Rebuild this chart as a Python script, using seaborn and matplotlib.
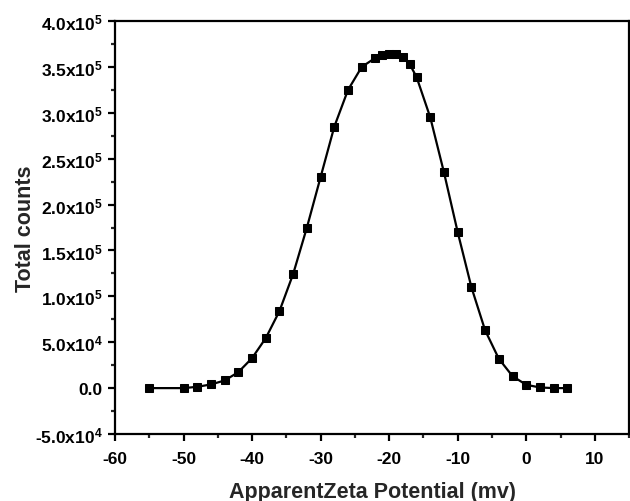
import matplotlib
matplotlib.use("Agg")
import matplotlib.pyplot as plt
import seaborn as sns
import pandas as pd
from matplotlib.ticker import MultipleLocator, FixedLocator, FuncFormatter

zeta = [-55, -50, -48, -46, -44, -42, -40, -38, -36, -34, -32, -30, -28, -26, -24,
        -22, -21, -20, -19, -18, -17, -16, -14, -12, -10, -8, -6, -4, -2, 0, 2, 4, 6]
counts = [0, 0, 1400, 4000, 8300, 17400, 32700, 54500, 84000, 124500, 175000,
          230000, 285000, 325000, 350000, 360000, 363500, 364000, 364000, 361000,
          353000, 339000, 295000, 235000, 170000, 110000, 63000, 32000, 13000,
          3600, 700, 0, 0]

x_ticks = [-60, -50, -40, -30, -20, -10, 0, 10]
y_ticks = [-50000, 0, 50000, 100000, 150000, 200000, 250000, 300000, 350000, 400000]
x_label = "ApparentZeta Potential (mv)"
y_label = "Total counts"

df = pd.DataFrame({"zeta": zeta, "counts": counts})

sns.set_style("ticks")
plt.rcParams["font.family"] = ["Liberation Sans", "DejaVu Sans"]
plt.rcParams["mathtext.fontset"] = "custom"
plt.rcParams["mathtext.rm"] = "Liberation Sans:bold"
plt.rcParams["mathtext.it"] = "Liberation Sans:bold"
plt.rcParams["mathtext.bf"] = "Liberation Sans:bold"
plt.rcParams["mathtext.default"] = "rm"
plt.rcParams["axes.unicode_minus"] = False

fig = plt.figure(figsize=(6.3, 5.02), dpi=100)
ax = fig.add_axes([0.1825, 0.1335, 0.8160, 0.8225])

sns.lineplot(data=df, x="zeta", y="counts", ax=ax, color="black", linewidth=1.6,
             marker="s", markersize=6, markeredgecolor="black", markerfacecolor="black",
             sort=False)

ax.set_xlim(-60, 15)
ax.set_ylim(-50000, 400000)
ax.xaxis.set_major_locator(FixedLocator(x_ticks))
ax.xaxis.set_minor_locator(MultipleLocator(5))
ax.yaxis.set_major_locator(FixedLocator(y_ticks))
ax.yaxis.set_minor_locator(MultipleLocator(25000))


def yfmt(v, pos):
    if abs(v) < 1e-9:
        return "0.0"
    exp = 0
    m = abs(v)
    while m >= 10:
        m /= 10
        exp += 1
    sign = "-" if v < 0 else ""
    return sign + f"{m:.1f}x10$^{{{exp}}}$"


ax.yaxis.set_major_formatter(FuncFormatter(yfmt))
ax.xaxis.set_major_formatter(FuncFormatter(lambda v, p: f"{int(round(v))}"))

for s in ax.spines.values():
    s.set_linewidth(1.6)
    s.set_color("black")

ax.tick_params(axis="x", which="major", pad=7)
ax.tick_params(axis="y", which="major", pad=4)
ax.tick_params(axis="both", which="major", direction="out", length=5, width=1.6,
               labelsize=12.5, colors="black")
ax.tick_params(axis="both", which="minor", direction="out", length=3, width=1.6)
for lab in ax.get_xticklabels() + ax.get_yticklabels():
    lab.set_fontweight("bold")

ax.set_xlabel(x_label, fontsize=15.5, fontweight="bold", labelpad=11)
ax.set_ylabel(y_label, fontsize=15.5, fontweight="bold", labelpad=-1)

fig.savefig("out.png", dpi=100)
